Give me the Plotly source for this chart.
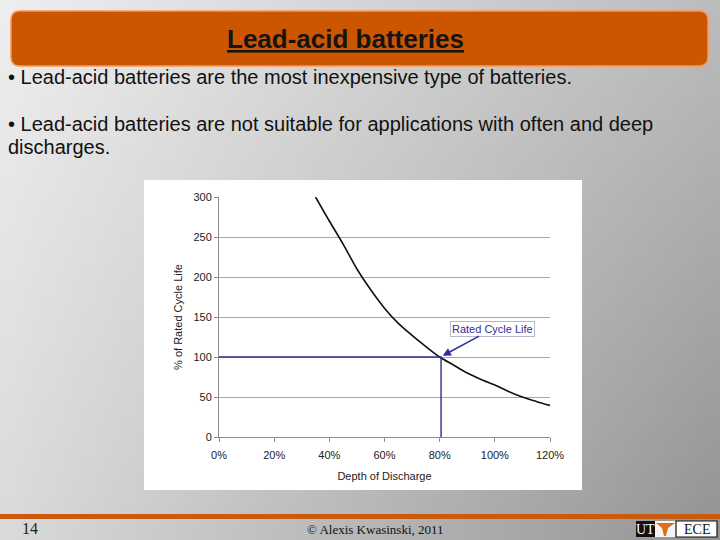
import base64
import struct
import zlib

import plotly.graph_objects as go

# ---------------- data ----------------
depth_of_discharge = [35, 40, 45, 50, 55, 60, 65, 70, 75, 80, 85, 90, 95, 100, 105, 110, 115, 120]
rated_cycle_life_pct = [300, 270, 241, 210, 184, 161, 142, 127, 113, 100, 90, 80, 72, 65, 57, 50, 44.5, 39.5]
rated_point_dod = 80.5
rated_point_life = 100
x_tick_vals = [0, 20, 40, 60, 80, 100, 120]
x_tick_text = ["0%", "20%", "40%", "60%", "80%", "100%", "120%"]
y_tick_vals = [0, 50, 100, 150, 200, 250, 300]

slide_title = "Lead-acid batteries"
bullet_1 = "• Lead-acid batteries are the most inexpensive type of batteries."
bullet_2a = "• Lead-acid batteries are not suitable for applications with often and deep"
bullet_2b = "discharges."
footer_page = "14"
footer_credit = "© Alexis Kwasinski, 2011"

W, H = 720, 540


def px(x):
    return x / W


def py(y):
    return 1 - y / H


# ------------- background gradient as small PNG -------------
def make_png(w, h):
    rows = []
    for j in range(h):
        fy = j / (h - 1)
        row = bytearray([0])
        for i in range(w):
            fx = i / (w - 1)
            v = 238 - 50 * fx - 20 * fy - 20 * fx * fy
            row.append(max(0, min(255, int(round(v)))))
        rows.append(bytes(row))
    raw = b"".join(rows)

    def chunk(tag, data):
        c = struct.pack(">I", len(data)) + tag + data
        return c + struct.pack(">I", zlib.crc32(tag + data) & 0xFFFFFFFF)

    png = b"\x89PNG\r\n\x1a\n"
    png += chunk(b"IHDR", struct.pack(">IIBBBBB", w, h, 8, 0, 0, 0, 0))
    png += chunk(b"IDAT", zlib.compress(raw, 9))
    png += chunk(b"IEND", b"")
    return "data:image/png;base64," + base64.b64encode(png).decode()


bg_src = make_png(72, 54)


def rounded_rect(x0, y0, x1, y1, r):
    pts = [
        f"M {px(x0 + r)},{py(y0)}",
        f"L {px(x1 - r)},{py(y0)}",
        f"Q {px(x1)},{py(y0)} {px(x1)},{py(y0 + r)}",
        f"L {px(x1)},{py(y1 - r)}",
        f"Q {px(x1)},{py(y1)} {px(x1 - r)},{py(y1)}",
        f"L {px(x0 + r)},{py(y1)}",
        f"Q {px(x0)},{py(y1)} {px(x0)},{py(y1 - r)}",
        f"L {px(x0)},{py(y0 + r)}",
        f"Q {px(x0)},{py(y0)} {px(x0 + r)},{py(y0)}",
        "Z",
    ]
    return " ".join(pts)


fig = go.Figure()

fig.add_trace(
    go.Scatter(
        x=depth_of_discharge,
        y=rated_cycle_life_pct,
        mode="lines",
        line=dict(color="#111111", width=1.6, shape="spline", smoothing=0.8),
        showlegend=False,
        hoverinfo="skip",
    )
)
fig.add_trace(
    go.Scatter(
        x=[0, rated_point_dod, rated_point_dod],
        y=[rated_point_life, rated_point_life, 0],
        mode="lines",
        line=dict(color="#2e2e8f", width=1.4),
        showlegend=False,
        hoverinfo="skip",
    )
)

shapes = [
    dict(type="rect", xref="paper", yref="paper", x0=px(144), x1=px(582), y0=py(490), y1=py(180),
         fillcolor="white", line=dict(width=0), layer="below"),
    dict(type="path", xref="paper", yref="paper", path=rounded_rect(11, 11, 708, 66, 9),
         fillcolor="#cc5500", line=dict(color="#f29a5c", width=1.5), layer="below"),
    dict(type="rect", xref="paper", yref="paper", x0=0, x1=1, y0=py(519), y1=py(514),
         fillcolor="#c95a12", line=dict(width=0), layer="below"),
    dict(type="rect", xref="paper", yref="paper", x0=px(636), x1=px(655), y0=py(537), y1=py(521),
         fillcolor="#111111", line=dict(width=0), layer="above"),
    dict(type="rect", xref="paper", yref="paper", x0=px(655), x1=px(676), y0=py(537), y1=py(521),
         fillcolor="#f4f4f4", line=dict(width=0), layer="above"),
    dict(type="path", xref="paper", yref="paper",
         path=f"M {px(656)},{py(523)} L {px(675)},{py(523)} L {px(668)},{py(528)} L {px(666)},{py(536)} "
              f"L {px(664)},{py(536)} L {px(662)},{py(528)} Z",
         fillcolor="#d9701c", line=dict(width=0), layer="above"),
    dict(type="rect", xref="paper", yref="paper", x0=px(676), x1=px(717), y0=py(537), y1=py(521),
         fillcolor="white", line=dict(color="#111111", width=1.2), layer="above"),
]

annotations = [
    dict(text=f"<b><u>{slide_title}</u></b>", x=px(345), y=py(39), xref="paper", yref="paper",
         showarrow=False, xanchor="center", yanchor="middle",
         font=dict(family="Liberation Sans, Arial", size=26, color="#141414")),
    dict(text=bullet_1, x=px(6), y=py(77), xref="paper", yref="paper", showarrow=False,
         xanchor="left", yanchor="middle", font=dict(family="Liberation Sans, Arial", size=20, color="#111111")),
    dict(text=bullet_2a, x=px(6), y=py(124), xref="paper", yref="paper", showarrow=False,
         xanchor="left", yanchor="middle", font=dict(family="Liberation Sans, Arial", size=20, color="#111111")),
    dict(text=bullet_2b, x=px(6), y=py(147), xref="paper", yref="paper", showarrow=False,
         xanchor="left", yanchor="middle", font=dict(family="Liberation Sans, Arial", size=20, color="#111111")),
    dict(text=footer_page, x=px(30), y=py(528), xref="paper", yref="paper", showarrow=False,
         xanchor="center", yanchor="middle", font=dict(family="Liberation Serif, Times New Roman", size=16, color="#222222")),
    dict(text=footer_credit, x=px(375), y=py(529), xref="paper", yref="paper", showarrow=False,
         xanchor="center", yanchor="middle", font=dict(family="Liberation Serif, Times New Roman", size=13, color="#111111")),
    dict(text="UT", x=px(645.5), y=py(529.5), xref="paper", yref="paper", showarrow=False,
         xanchor="center", yanchor="middle", font=dict(family="Liberation Serif", size=14, color="white")),
    dict(text="ECE", x=px(696.5), y=py(529.5), xref="paper", yref="paper", showarrow=False,
         xanchor="center", yanchor="middle", font=dict(family="Liberation Serif", size=14, color="#111111")),
    dict(text="Rated Cycle Life", x=rated_point_dod + 0.6, y=rated_point_life + 1.5, xref="x", yref="y",
         ax=99.3, ay=135.5, axref="x", ayref="y", showarrow=True,
         arrowhead=2, arrowsize=1.1, arrowwidth=1.5, arrowcolor="#2e2e9f", standoff=0,
         font=dict(family="Liberation Sans, Arial", size=11, color="#2e2e9f"),
         bgcolor="white", bordercolor="#b8b8c8", borderwidth=1, borderpad=1),
]

fig.update_layout(
    width=W,
    height=H,
    autosize=False,
    margin=dict(l=0, r=0, t=0, b=0),
    paper_bgcolor="#c8c8c8",
    plot_bgcolor="white",
    showlegend=False,
    shapes=shapes,
    annotations=annotations,
    images=[dict(source=bg_src, xref="paper", yref="paper", x=0, y=1, sizex=1, sizey=1,
                 sizing="stretch", xanchor="left", yanchor="top", layer="below")],
    xaxis=dict(
        domain=[px(219), px(550)],
        range=[0, 120],
        tickvals=x_tick_vals,
        ticktext=x_tick_text,
        showgrid=False,
        zeroline=False,
        showline=True,
        linecolor="#8c8c8c",
        linewidth=1,
        ticks="outside",
        ticklen=4,
        tickcolor="#8c8c8c",
        ticklabelstandoff=4,
        tickfont=dict(family="Liberation Sans, Arial", size=11, color="#222222"),
        title=dict(text="Depth of Discharge", standoff=12,
                   font=dict(family="Liberation Sans, Arial", size=11, color="#222222")),
        automargin=False,
        fixedrange=True,
    ),
    yaxis=dict(
        domain=[py(437), py(197)],
        range=[0, 300],
        tickvals=y_tick_vals,
        showgrid=True,
        gridcolor="#a8a8a8",
        gridwidth=1,
        zeroline=False,
        showline=True,
        linecolor="#8c8c8c",
        linewidth=1,
        ticks="outside",
        ticklen=4,
        tickcolor="#8c8c8c",
        tickfont=dict(family="Liberation Sans, Arial", size=11, color="#222222"),
        title=dict(text="% of Rated Cycle Life", standoff=8,
                   font=dict(family="Liberation Sans, Arial", size=11, color="#222222")),
        automargin=False,
        fixedrange=True,
    ),
)

fig.write_html("out.html")
